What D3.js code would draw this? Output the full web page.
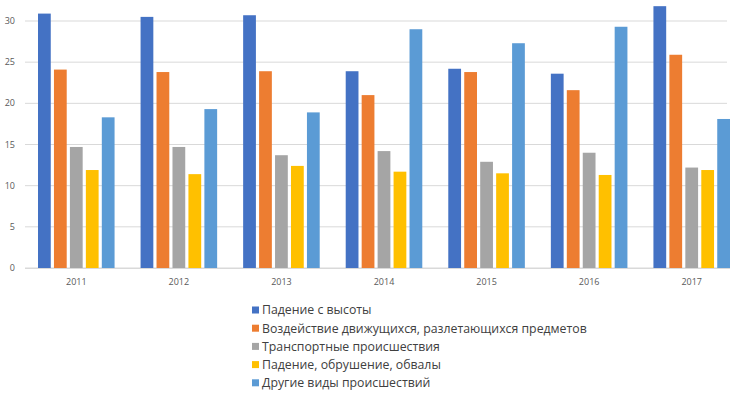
<!DOCTYPE html>
<html>
<head>
<meta charset="utf-8">
<script src="https://cdnjs.cloudflare.com/ajax/libs/d3/7.8.5/d3.min.js"></script>
<style>
  html, body { margin: 0; padding: 0; background: #fff; }
  svg { display: block; font-family: "Open Sans", "Noto Sans", sans-serif; }
</style>
</head>
<body>
<div id="chart"></div>
<script>
var years = ['2011', '2012', '2013', '2014', '2015', '2016', '2017'];
var seriesNames = [
    'Падение с высоты',
    'Воздействие движущихся, разлетающихся предметов',
    'Транспортные происшествия',
    'Падение, обрушение, обвалы',
    'Другие виды происшествий'
];
var fall = [30.9, 30.5, 30.7, 23.9, 24.2, 23.6, 31.8];
var moving = [24.1, 23.8, 23.9, 21.0, 23.8, 21.6, 25.9];
var transport = [14.7, 14.7, 13.7, 14.2, 12.9, 14.0, 12.2];
var collapse = [11.9, 11.4, 12.4, 11.7, 11.5, 11.3, 11.9];
var other = [18.3, 19.3, 18.9, 29.0, 27.3, 29.3, 18.1];
var yTicks = [0, 5, 10, 15, 20, 25, 30];
var colors = ['#4472c4', '#ed7d31', '#a5a5a5', '#ffc000', '#5b9bd5'];

var series = [fall, moving, transport, collapse, other];

var width = 741, height = 397;
var plot = {left: 25, right: 743, top: 21, bottom: 268};

var svg = d3.select('#chart').append('svg')
    .attr('width', width)
    .attr('height', height);

var xScale = d3.scaleBand()
    .domain(years)
    .range([plot.left, plot.right])
    .paddingInner(0);

var inner = d3.scaleBand()
    .domain(d3.range(series.length))
    .range([13, xScale.bandwidth() - 13])
    .paddingInner(0.2);

var yScale = d3.scaleLinear()
    .domain([0, 30])
    .range([plot.bottom, plot.top]);

// gridlines
svg.append('g')
    .selectAll('line')
    .data(yTicks)
    .enter().append('line')
    .attr('x1', plot.left)
    .attr('x2', 727)
    .attr('y1', function(d) { return yScale(d); })
    .attr('y2', function(d) { return yScale(d); })
    .attr('stroke', '#d9d9d9')
    .attr('stroke-width', 1);

// y labels
svg.append('g')
    .selectAll('text')
    .data(yTicks)
    .enter().append('text')
    .attr('x', 15)
    .attr('y', function(d) { return yScale(d); })
    .attr('dy', '0.35em')
    .attr('text-anchor', 'end')
    .attr('font-size', 9)
    .attr('fill', '#595959')
    .text(function(d) { return d; });

// bars
var groups = svg.append('g')
    .selectAll('g')
    .data(years)
    .enter().append('g')
    .attr('transform', function(d) { return 'translate(' + xScale(d) + ',0)'; });

groups.selectAll('rect')
    .data(function(d, i) {
        return series.map(function(s, j) { return {s: j, value: s[i]}; });
    })
    .enter().append('rect')
    .attr('x', function(d) { return inner(d.s); })
    .attr('width', inner.bandwidth())
    .attr('y', function(d) { return yScale(d.value); })
    .attr('height', function(d) { return plot.bottom - yScale(d.value); })
    .attr('fill', function(d) { return colors[d.s]; });

// baseline
svg.append('line')
    .attr('x1', plot.left).attr('x2', 730)
    .attr('y1', plot.bottom + 0.5).attr('y2', plot.bottom + 0.5)
    .attr('stroke', '#d9d9d9');

// x labels
svg.append('g')
    .selectAll('text')
    .data(years)
    .enter().append('text')
    .attr('x', function(d) { return xScale(d) + xScale.bandwidth() / 2; })
    .attr('y', 285)
    .attr('text-anchor', 'middle')
    .attr('font-size', 9)
    .attr('fill', '#595959')
    .text(function(d) { return d; });

// legend
var legend = svg.append('g')
    .selectAll('g')
    .data(seriesNames)
    .enter().append('g')
    .attr('transform', function(d, i) { return 'translate(252,' + (310 + i * 18.2) + ')'; });

legend.append('rect')
    .attr('x', 0).attr('y', -3.5)
    .attr('width', 7).attr('height', 7)
    .attr('fill', function(d, i) { return colors[i]; });

legend.append('text')
    .attr('x', 10)
    .attr('dy', '0.35em')
    .attr('font-size', 12.3)
    .attr('fill', '#404040')
    .text(function(d) { return d; });
</script>
</body>
</html>
